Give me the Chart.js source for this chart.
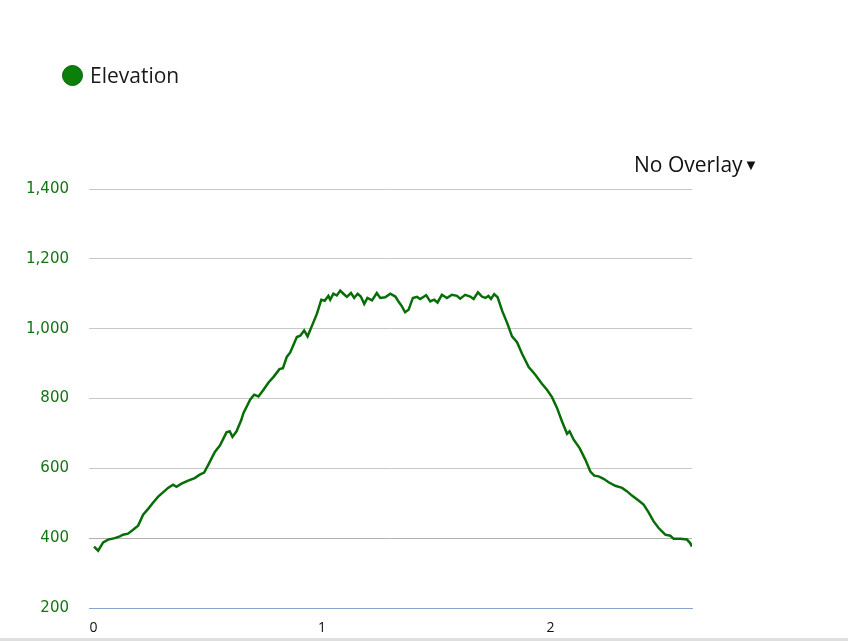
<!DOCTYPE html>
<html>
<head>
<meta charset="utf-8">
<script src="https://cdn.jsdelivr.net/npm/chart.js@4/dist/chart.umd.min.js"></script>
<style>
  html, body { margin: 0; padding: 0; background: #fff; }
  body { width: 848px; height: 641px; position: relative; overflow: hidden; font-family: "Open Sans", sans-serif; }
  #wrap { position: absolute; left: 0; top: 0; width: 848px; height: 641px; }
  .legend { position: absolute; left: 62px; top: 61px; font-size: 21px; color: #1a1a1a; display: flex; align-items: center; }
  .legend .dot { width: 19px; height: 19px; border-radius: 50%; background: #0a800a; border: 1px solid #066006; margin-right: 7px; }
  .overlay { position: absolute; left: 634px; top: 150px; font-size: 21px; color: #111; }
  .overlay span { font-size: 15px; vertical-align: 2px; margin-left: 1px; }
  .bar { position: absolute; left: 0; bottom: 0; width: 848px; height: 3px; background: #dedede; }
</style>
</head>
<body>
<div id="wrap"><canvas id="chart" width="848" height="641"></canvas></div>
<div class="legend"><div class="dot"></div>Elevation</div>
<div class="overlay">No Overlay<span>&#9660;</span></div>
<div class="bar"></div>
<script>
// profil d'altitude, distance / elevation
let distance = [0.002, 0.020, 0.042, 0.064, 0.093, 0.115, 0.129, 0.151, 0.173, 0.195,
  0.217, 0.239, 0.261, 0.283, 0.304, 0.326, 0.348, 0.363, 0.385, 0.414,
  0.443, 0.465, 0.484, 0.502, 0.531, 0.553, 0.582, 0.596, 0.608, 0.626,
  0.647, 0.656, 0.686, 0.703, 0.722, 0.744, 0.766, 0.788, 0.814, 0.829,
  0.846, 0.861, 0.890, 0.905, 0.922, 0.937, 0.956, 0.978, 0.997, 1.012,
  1.028, 1.036, 1.050, 1.065, 1.080, 1.094, 1.109, 1.127, 1.141, 1.156,
  1.170, 1.185, 1.199, 1.219, 1.240, 1.255, 1.277, 1.299, 1.321, 1.335,
  1.350, 1.364, 1.379, 1.398, 1.416, 1.430, 1.456, 1.474, 1.491, 1.506,
  1.525, 1.547, 1.569, 1.591, 1.605, 1.627, 1.649, 1.664, 1.683, 1.700,
  1.715, 1.729, 1.740, 1.754, 1.769, 1.789, 1.811, 1.832, 1.854, 1.876,
  1.905, 1.934, 1.963, 1.985, 2.007, 2.029, 2.051, 2.073, 2.084, 2.102,
  2.128, 2.153, 2.175, 2.192, 2.211, 2.233, 2.255, 2.284, 2.314, 2.336,
  2.357, 2.386, 2.408, 2.430, 2.452, 2.474, 2.503, 2.525, 2.540, 2.569,
  2.598, 2.612, 2.620];
let elevation = [376, 364, 388, 396, 400, 405, 410, 413, 424, 436,
  467, 484, 502, 519, 531, 544, 553, 547, 556, 565,
  572, 582, 588, 610, 647, 665, 703, 706, 690, 706,
  739, 758, 797, 811, 806, 825, 846, 862, 884, 887,
  919, 932, 976, 980, 995, 978, 1008, 1043, 1083, 1080,
  1094, 1083, 1100, 1095, 1109, 1100, 1091, 1102, 1088, 1100,
  1092, 1071, 1088, 1081, 1102, 1088, 1090, 1100, 1092, 1078,
  1064, 1047, 1054, 1088, 1091, 1085, 1096, 1078, 1083, 1075,
  1097, 1088, 1097, 1094, 1086, 1097, 1092, 1085, 1104, 1092,
  1088, 1094, 1085, 1099, 1090, 1051, 1016, 978, 961, 928,
  890, 868, 842, 825, 804, 773, 734, 699, 706, 682,
  658, 625, 591, 579, 577, 570, 560, 550, 544, 534,
  522, 508, 496, 474, 448, 429, 410, 407, 398, 398,
  396, 386, 376];
let yTicks = [200, 400, 600, 800, 1000, 1200, 1400];
let xTicks = [0, 1, 2];

let points = distance.map((d, i) => ({ x: d, y: elevation[i] }));

const config = {
    type: 'line',
    data: {
        datasets: [{
            label: 'Elevation',
            data: points,
            borderColor: '#076e07',
            borderWidth: 2.5,
            pointRadius: 0,
            fill: false,
            tension: 0
        }]
    },
    options: {
        responsive: false,
        animation: false,
        layout: { padding: { left: 0, top: 189, right: 156, bottom: 0 } },
        plugins: {
            legend: { display: false },
            tooltip: { enabled: false }
        },
        scales: {
            x: {
                type: 'linear',
                min: -0.02,
                max: 2.62,
                afterBuildTicks: axis => { axis.ticks = xTicks.map(v => ({ value: v })); },
                afterFit: axis => { axis.height = 33; },
                grid: { display: false, drawTicks: false },
                border: { display: true, color: '#8da2cc', width: 1 },
                ticks: {
                    padding: 12,
                    color: '#111',
                    font: { family: 'Open Sans', size: 14 },
                    callback: v => v
                }
            },
            y: {
                min: 200,
                max: 1400,
                afterBuildTicks: axis => { axis.ticks = yTicks.map(v => ({ value: v })); },
                afterFit: axis => { axis.width = 89; },
                grid: {
                    drawTicks: false,
                    color: ctx => ctx.tick && ctx.tick.value === 400 ? '#b0b0b0' : '#c8c8c8'
                },
                border: { display: false },
                ticks: {
                    padding: 20,
                    color: '#127512',
                    font: { family: 'DejaVu Sans', size: 15 },
                    callback: v => v.toLocaleString('en-US')
                }
            }
        }
    }
};

const myChart = new Chart(document.getElementById('chart'), config);
</script>
</body>
</html>
